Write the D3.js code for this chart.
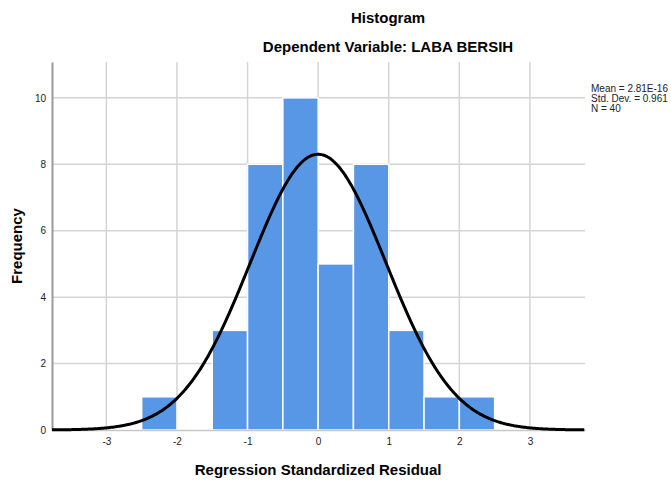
<!DOCTYPE html>
<html>
<head>
<meta charset="utf-8">
<script src="https://cdn.jsdelivr.net/npm/d3@7"></script>
<style>
  body { margin: 0; background: #fff; }
  svg { font-family: "Liberation Sans", Arial, sans-serif; }
  .grid line { stroke: #d4d4d4; stroke-width: 1.5; }
  .tick text { fill: #222; font-size: 10px; }
</style>
</head>
<body>
<svg id="chart" width="671" height="481"></svg>
<script>
// histogram bins (lower edges, width 0.5) and counts
const binStarts = [-2.5, -2, -1.5, -1, -0.5, 0, 0.5, 1, 1.5, 2];
const binWidth = 0.5;
const counts = [1, 0, 3, 8, 10, 5, 8, 3, 1, 1];
const xTicks = [-3, -2, -1, 0, 1, 2, 3];
const yTicks = [0, 2, 4, 6, 8, 10];
const stats = { mean: 2.81e-16, sd: 0.961, n: 40 };
const legendLines = ["Mean = 2.81E-16", "Std. Dev. = 0.961", "N = 40"];

const svg = d3.select("#chart");
const margin = { top: 62, left: 52, right: 86, bottom: 51 };
const width = 671 - margin.left - margin.right,
  height = 481 - margin.top - margin.bottom;

const x = d3.scaleLinear().domain([-3.77, 3.78]).range([0, width]);
const y = d3.scaleLinear().domain([0, 11.08]).range([height, 0]);

const g = svg.append("g").attr("transform", `translate(${margin.left},${margin.top})`);

// grid
g.append("g")
  .attr("class", "grid")
  .selectAll("line.v")
  .data(xTicks)
  .enter()
  .append("line")
  .attr("x1", d => x(d))
  .attr("x2", d => x(d))
  .attr("y1", 0)
  .attr("y2", height);

g.append("g")
  .attr("class", "grid")
  .selectAll("line.h")
  .data(yTicks.filter(d => d > 0))
  .enter()
  .append("line")
  .attr("x1", 0)
  .attr("x2", width)
  .attr("y1", d => y(d))
  .attr("y2", d => y(d));

// bars
const bins = binStarts.map((s, i) => ({ x0: s, x1: s + binWidth, count: counts[i] }));
g.selectAll(".bar")
  .data(bins.filter(d => d.count > 0))
  .enter()
  .append("rect")
  .attr("class", "bar")
  .attr("x", d => x(d.x0))
  .attr("width", d => x(d.x1) - x(d.x0))
  .attr("y", d => y(d.count))
  .attr("height", d => y(0) - y(d.count))
  .attr("fill", "#5896e6")
  .attr("stroke", "#fff")
  .attr("stroke-width", 1.5);

// axes (plain hyphen for negatives, like SPSS)
const xAxis = d3.axisBottom(x).tickValues(xTicks).tickFormat(d => String(d)).tickSize(0).tickPadding(8);
g.append("g")
  .attr("transform", `translate(0,${height})`)
  .call(xAxis)
  .call(s => s.select(".domain").attr("stroke", "#c8c8c8").attr("stroke-width", 1.5));

const yAxis = d3.axisLeft(y).tickValues(yTicks).tickFormat(d => String(d)).tickSize(0).tickPadding(6);
g.append("g")
  .call(yAxis)
  .call(s => s.select(".domain").attr("stroke", "#9a9a9a").attr("stroke-width", 2));

// normal curve from the stats in the legend
const pdf = v => Math.exp(-0.5 * Math.pow((v - stats.mean) / stats.sd, 2)) / (stats.sd * Math.sqrt(2 * Math.PI));
const curveX = d3.range(x.domain()[0], x.domain()[1] + 0.001, 0.02);
const line = d3
  .line()
  .x(d => x(d))
  .y(d => y(stats.n * binWidth * pdf(d)))
  .curve(d3.curveBasis);
g.append("path")
  .datum(curveX)
  .attr("d", line)
  .attr("fill", "none")
  .attr("stroke", "#000")
  .attr("stroke-width", 3);

// titles
svg.append("text")
  .attr("x", 388)
  .attr("y", 23)
  .attr("text-anchor", "middle")
  .attr("font-size", 15)
  .attr("font-weight", "bold")
  .text("Histogram");
svg.append("text")
  .attr("x", 388)
  .attr("y", 52)
  .attr("text-anchor", "middle")
  .attr("font-size", 15)
  .attr("font-weight", "bold")
  .text("Dependent Variable: LABA BERSIH");
svg.append("text")
  .attr("x", margin.left + x(0))
  .attr("y", 475)
  .attr("text-anchor", "middle")
  .attr("font-size", 15)
  .attr("font-weight", "bold")
  .text("Regression Standardized Residual");
svg.append("text")
  .attr("transform", `translate(22,${margin.top + height / 2}) rotate(-90)`)
  .attr("text-anchor", "middle")
  .attr("font-size", 15)
  .attr("font-weight", "bold")
  .text("Frequency");

// legend
svg.append("g")
  .selectAll("text")
  .data(legendLines)
  .enter()
  .append("text")
  .attr("x", 591)
  .attr("y", (d, i) => 92 + i * 10)
  .attr("font-size", 10)
  .attr("fill", "#222")
  .text(d => d);
</script>
</body>
</html>
